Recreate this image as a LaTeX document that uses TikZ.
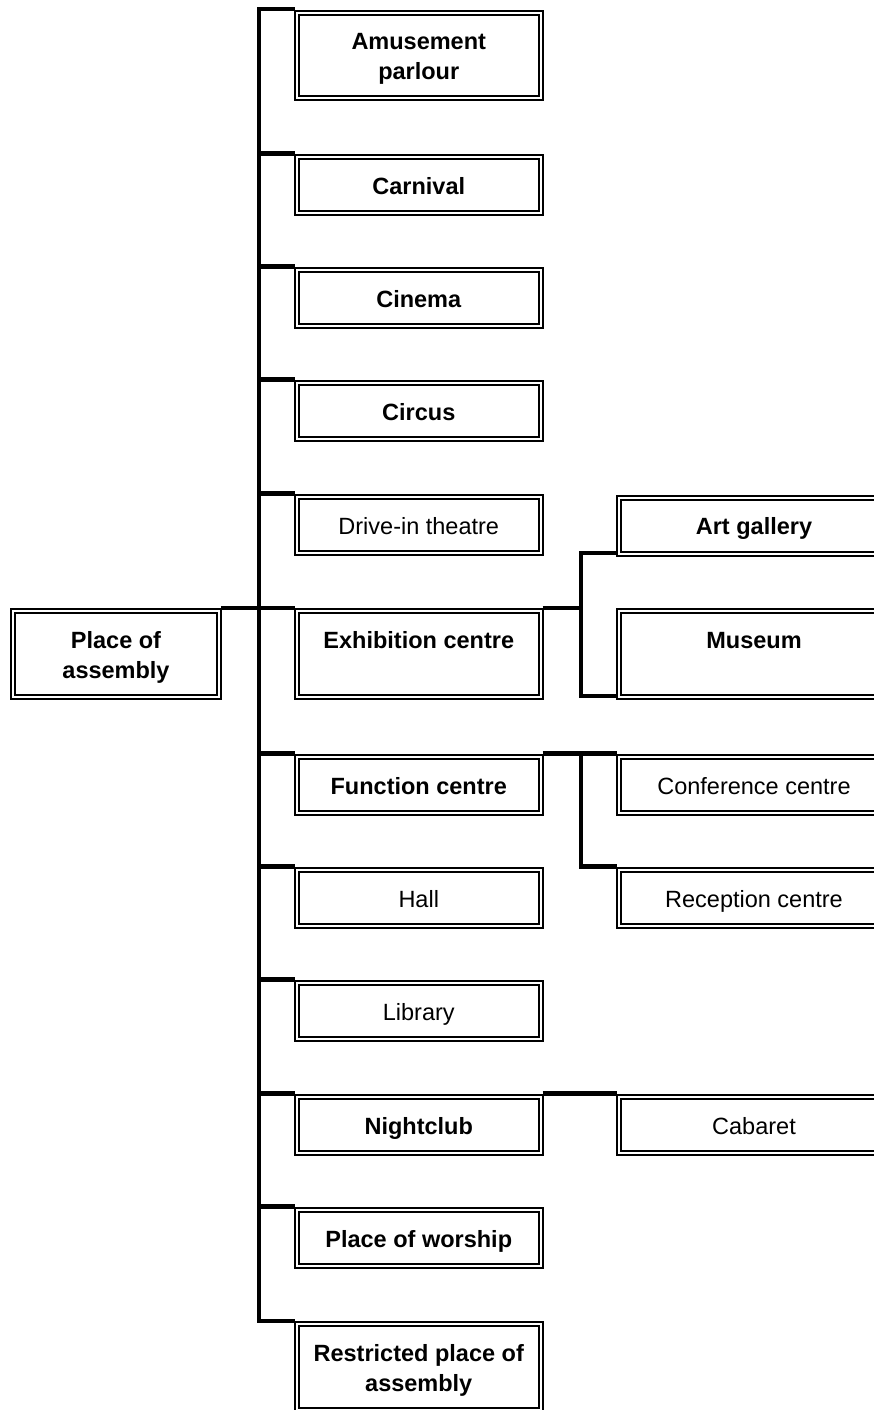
\documentclass[tikz,border=0pt]{standalone}
\usepackage{fontspec}
\setmainfont{Liberation Sans}
% fixed-height strut so every text line sits the same way in its box
\newcommand\bs{\rule[-6pt]{0pt}{30pt}}
\begin{document}
\begin{tikzpicture}[x=1pt,y=-1pt,
  box/.style={draw, double, line width=2pt, double distance=2pt,
    outer sep=2pt, inner sep=0pt, align=center},
  plain/.style={font=\fontsize{23.5pt}{30pt}\selectfont},
  bold/.style={font=\fontsize{23.5pt}{30pt}\selectfont\bfseries},
  colroot/.style={minimum width=206pt},
  colmid/.style={minimum width=243.5pt},
  colright/.style={minimum width=270pt},
  one/.style={minimum height=56pt},
  two/.style={minimum height=85.5pt},
  conn/.style={line width=4.2pt}]
\useasboundingbox (0,0) rectangle (874,1410);
\clip (0,0) rectangle (874,1410);

% root
\node[box, colroot, two, bold] (root) at (116,654) {Place of\bs\\assembly\bs};

% middle column
\node[box, colmid, two, bold]  (amuse) at (418.75,55.5) {Amusement\bs\\parlour\bs};
\node[box, colmid, one, bold]  (carn)  at (418.75,185)  {Carnival\bs};
\node[box, colmid, one, bold]  (cine)  at (418.75,298)  {Cinema\bs};
\node[box, colmid, one, bold]  (circ)  at (418.75,411)  {Circus\bs};
\node[box, colmid, one, plain] (drive) at (418.75,525)  {Drive-in theatre\bs};
\node[box, colmid, two, bold]  (exh)   at (418.75,654)  {Exhibition centre\bs\\\bs};
\node[box, colmid, one, bold]  (func)  at (418.75,785)  {Function centre\bs};
\node[box, colmid, one, plain] (hall)  at (418.75,898)  {Hall\bs};
\node[box, colmid, one, plain] (lib)   at (418.75,1011) {Library\bs};
\node[box, colmid, one, bold]  (night) at (418.75,1125) {Nightclub\bs};
\node[box, colmid, one, bold]  (wor)   at (418.75,1238) {Place of worship\bs};
\node[box, colmid, two, bold]  (restr) at (418.75,1367) {Restricted place of\bs\\assembly\bs};

% right column
\node[box, colright, one, bold]  (art)    at (754,525.5) {Art gallery\bs};
\node[box, colright, two, bold]  (museum) at (754,654)   {Museum\bs\\\bs};
\node[box, colright, one, plain] (conf)   at (754,785)   {Conference centre\bs};
\node[box, colright, one, plain] (recep)  at (754,898)   {Reception centre\bs};
\node[box, colright, one, plain] (cab)    at (754,1125)  {Cabaret\bs};

% connector attachment points
\foreach \n in {amuse,carn,cine,circ,drive,exh,func,hall,lib,night,wor,restr,conf,recep,cab}
  \coordinate (\n-nw) at ([yshift=1.5pt]\n.north west);
\foreach \n in {root,exh,func,night}
  \coordinate (\n-ne) at ([yshift=1.5pt]\n.north east);
\foreach \n in {art,museum}
  \coordinate (\n-sw) at ([yshift=2.5pt]\n.south west);
\coordinate (trunk) at (258.7,0);
\coordinate (fork1) at (581,0);
\coordinate (fork2) at (581,0);

% main trunk
\draw[conn] (amuse-nw) -- (trunk |- amuse-nw) -- (trunk |- restr-nw) -- (restr-nw);
\foreach \n in {carn,cine,circ,drive,func,hall,lib,night,wor}
  \draw[conn] (trunk |- \n-nw) -- (\n-nw);
\draw[conn] (root-ne) -- (exh-nw);

% exhibition centre branch
\draw[conn] (exh-ne) -- (fork1 |- exh-ne);
\draw[conn] (art-sw) -- (fork1 |- art-sw) -- (fork1 |- museum-sw) -- (museum-sw);

% function centre branch
\draw[conn] (func-ne) -- (conf-nw);
\draw[conn] (fork2 |- func-ne) -- (fork2 |- recep-nw) -- (recep-nw);

% nightclub branch
\draw[conn] (night-ne) -- (cab-nw);
\end{tikzpicture}
\end{document}
